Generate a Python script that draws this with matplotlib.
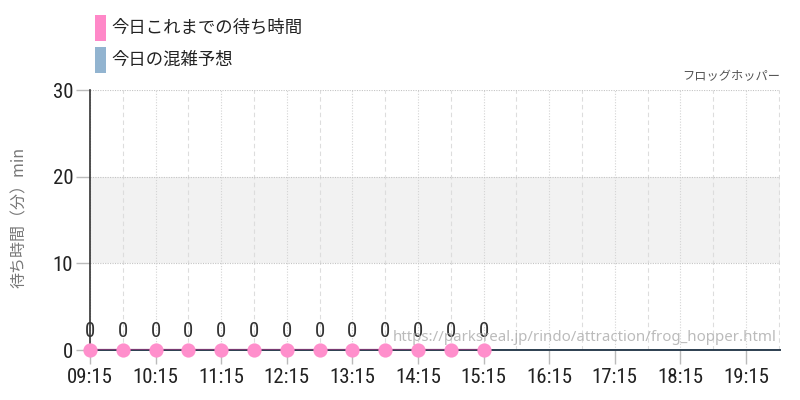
import matplotlib
matplotlib.use("Agg")
import matplotlib.pyplot as plt
from matplotlib import font_manager as fm
from matplotlib.patches import Rectangle

times = ["09:15", "09:45", "10:15", "10:45", "11:15", "11:45", "12:15",
         "12:45", "13:15", "13:45", "14:15", "14:45", "15:15"]
waits = [0, 0, 0, 0, 0, 0, 0, 0, 0, 0, 0, 0, 0]
tick_labels = ["09:15", "10:15", "11:15", "12:15", "13:15", "14:15",
               "15:15", "16:15", "17:15", "18:15", "19:15"]
minor_labels = ["09:45", "10:45", "11:45", "12:45", "13:45", "14:45",
                "15:45", "16:45", "17:45", "18:45", "19:45"]
y_ticks = [0, 10, 20, 30]
legend_labels = ["今日これまでの待ち時間", "今日の混雑予想"]
title = "フロッグホッパー"
ylabel = "待ち時間（分）min"
url = "https://parksreal.jp/rindo/attraction/frog_hopper.html"

names = {f.name for f in fm.fontManager.ttflist}
num_font = "DejaVu Sans"
for cand in ["Liberation Sans Narrow", "Roboto Condensed", "Open Sans Condensed", "Roboto"]:
    if cand in names:
        num_font = cand
        break
jp = ["Noto Sans CJK JP", "DejaVu Sans"]


def tnum(s):
    h, m = s.split(":")
    return int(h) + int(m) / 60.0


fig = plt.figure(figsize=(8, 4), dpi=100)
ax = fig.add_axes([0.1125, 0.125, 0.8625, 0.65])

x_all = [tnum(t) for t in times]
xmin, xmax = tnum("09:15"), tnum("19:45") + 0.02
ax.set_xlim(xmin, xmax)
ax.set_ylim(0, 30)

# band
ax.axhspan(10, 20, color="#f2f2f2", zorder=0, lw=0)

# grid
for t in tick_labels:
    ax.axvline(tnum(t), color="#d4d4d4", lw=0.8, ls=(0, (1, 1.5)), zorder=1)
for t in minor_labels:
    ax.axvline(tnum(t), color="#dddddd", lw=0.8, ls=(0, (4, 3)), zorder=1)
for y in [10, 20, 30]:
    ax.axhline(y, color="#c4c4c4", lw=0.8, ls=(0, (1, 1.2)), zorder=1)

# forecast baseline at 0
ax.plot([xmin, xmax], [0, 0], color="#2c3e50", lw=1.4, zorder=2, clip_on=False)
# today line + markers
ax.plot(x_all, waits, color="#7a3a72", lw=1.6, zorder=3)
ax.scatter(x_all, waits, s=105, color="#ff8fcc", zorder=4, clip_on=False, lw=0)
for x, v in zip(x_all, waits):
    ax.text(x, v + 1.05, str(v), ha="center", va="bottom", fontsize=15,
            family=num_font, color="#333333", zorder=5)

for s in ["top", "right", "bottom"]:
    ax.spines[s].set_visible(False)
ax.spines["left"].set_color("#333333")
ax.spines["left"].set_linewidth(1.2)

ax.set_xticks([tnum(t) for t in tick_labels])
ax.set_xticklabels(tick_labels, family=num_font, fontsize=15, color="#222222")
ax.set_yticks(y_ticks)
ax.set_yticklabels([str(v) for v in y_ticks], family=num_font, fontsize=15, color="#222222")
ax.tick_params(axis="x", length=10, color="#bbbbbb", width=1, pad=3)
ax.tick_params(axis="y", length=10, color="#bbbbbb", width=1, pad=2)

ax.set_ylabel(ylabel, family=jp, fontsize=11.5, color="#777777", labelpad=6)
ax.yaxis.set_label_coords(-0.09, 0.51)

fig.text(0.975, 0.808, title, ha="right", va="center", family=jp,
         fontsize=8.8, color="#555555")
fig.text(0.971, 0.157, url, ha="right", va="center", family=["Noto Sans", "DejaVu Sans"],
         fontsize=10.8, color="#aaaaaa", alpha=0.8, zorder=6)

# legend
colors = ["#ff88c8", "#92b4d0"]
for i, (lab, c) in enumerate(zip(legend_labels, colors)):
    ytop = 15 + i * 32
    fig.patches.append(Rectangle((95 / 800, 1 - (ytop + 26) / 400), 11 / 800, 26 / 400,
                                 transform=fig.transFigure, color=c, lw=0))
    fig.text(111 / 800, 1 - (ytop + 13) / 400, lab, ha="left", va="center",
             family=jp, fontsize=12.5, color="#222222")

fig.savefig("out.png", dpi=100)
